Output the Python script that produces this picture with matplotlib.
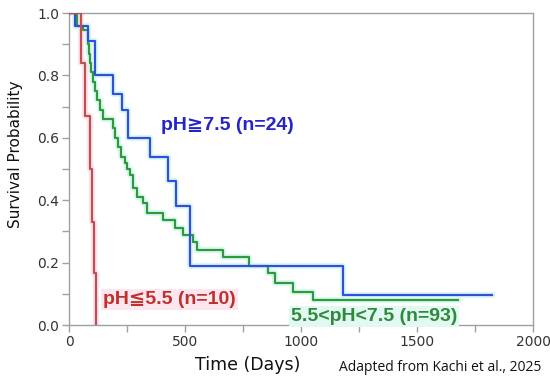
import matplotlib
matplotlib.use("Agg")
import matplotlib.pyplot as plt
from matplotlib.ticker import MultipleLocator

# ---- data ----
blue_days = [0, 26, 82, 112, 190, 228, 254, 349, 427, 461, 522, 1181, 1823]
blue_surv = [1.0, 0.958, 0.91, 0.80, 0.74, 0.69, 0.60, 0.54, 0.46, 0.38, 0.19, 0.095, 0.095]

green_days = [0, 34, 60, 82, 86, 90, 95, 103, 112, 122, 134, 147, 190, 200, 212, 225,
              240, 250, 263, 276, 293, 319, 336, 405, 457, 491, 534, 552, 664, 776,
              858, 888, 966, 1052, 1677]
green_surv = [1.0, 0.96, 0.945, 0.90, 0.87, 0.84, 0.81, 0.78, 0.75, 0.72, 0.69, 0.66,
              0.63, 0.60, 0.57, 0.54, 0.52, 0.50, 0.48, 0.44, 0.41, 0.39, 0.36, 0.337,
              0.31, 0.29, 0.265, 0.24, 0.218, 0.19, 0.167, 0.135, 0.106, 0.08, 0.08]

red_days = [0, 52, 68, 90, 99, 108, 116]
red_surv = [1.0, 0.84, 0.67, 0.50, 0.33, 0.167, 0.0]

label_blue = "pH≧7.5 (n=24)"
label_red = "pH≦5.5 (n=10)"
label_green = "5.5<pH<7.5 (n=93)"

x_ticks = [0, 500, 1000, 1500, 2000]
y_ticks = [0.0, 0.2, 0.4, 0.6, 0.8, 1.0]

# ---- figure ----
fig = plt.figure(figsize=(5.5, 3.83), dpi=100)
ax = fig.add_axes([0.1255, 0.1514, 0.8436, 0.8146])

c_blue = "#3050DC"
c_green = "#2E9A3A"
c_red = "#C0504D"

# faint halo under the lines
ax.step(green_days, green_surv, where="post", color="#DDF8F4", lw=4.5, zorder=2)
ax.step(blue_days, blue_surv, where="post", color="#DDF8F4", lw=4.5, zorder=2)
ax.step(red_days, red_surv, where="post", color="#FCE4EE", lw=4.5, zorder=2)

ax.step(green_days, green_surv, where="post", color=c_green, lw=1.6, zorder=3)
ax.step(blue_days, blue_surv, where="post", color=c_blue, lw=1.6, zorder=4)
ax.step(red_days, red_surv, where="post", color=c_red, lw=1.6, zorder=5)

ax.set_xlim(0, 2000)
ax.set_ylim(0, 1.0)
ax.set_xticks(x_ticks)
ax.set_yticks(y_ticks)
ax.set_xticklabels([str(t) for t in x_ticks])
ax.set_yticklabels([f"{t:.1f}" for t in y_ticks])
ax.xaxis.set_minor_locator(MultipleLocator(250))
ax.yaxis.set_minor_locator(MultipleLocator(0.1))

for s in ax.spines.values():
    s.set_color("#A0A0A0")
    s.set_linewidth(1.0)
ax.tick_params(which="both", direction="out", color="#A0A0A0", length=5, width=1,
               labelsize=10, labelcolor="#333333", pad=2)

ax.set_xlabel("Time (Days)", fontsize=12.5, color="#111111")
ax.set_ylabel("Survival Probability", fontsize=11, color="#111111")
ax.xaxis.set_label_coords(0.385, -0.1)
ax.yaxis.set_label_coords(-0.1, 0.548)

fam = ["Liberation Sans", "DejaVu Sans"]
ax.text(395, 0.64, label_blue, color="#2424C8", fontsize=14, fontweight="bold",
        family=fam, va="center", ha="left", zorder=6)
ax.text(148, 0.082, label_red, color="#C0302A", fontsize=14, fontweight="bold",
        family=fam, va="center", ha="left", zorder=6,
        bbox=dict(boxstyle="square,pad=0.1", fc="#FDE6F0", ec="none"))
ax.text(955, 0.028, label_green, color="#2E8B3A", fontsize=14, fontweight="bold",
        family=fam, va="center", ha="left", zorder=6,
        bbox=dict(boxstyle="square,pad=0.1", fc="#E2F8F2", ec="none"))

fig.text(0.984, 0.04, "Adapted from Kachi et al., 2025", fontsize=10,
         family=["Open Sans", "DejaVu Sans"], ha="right", va="center", color="#111111")

fig.savefig("out.png", dpi=100)
